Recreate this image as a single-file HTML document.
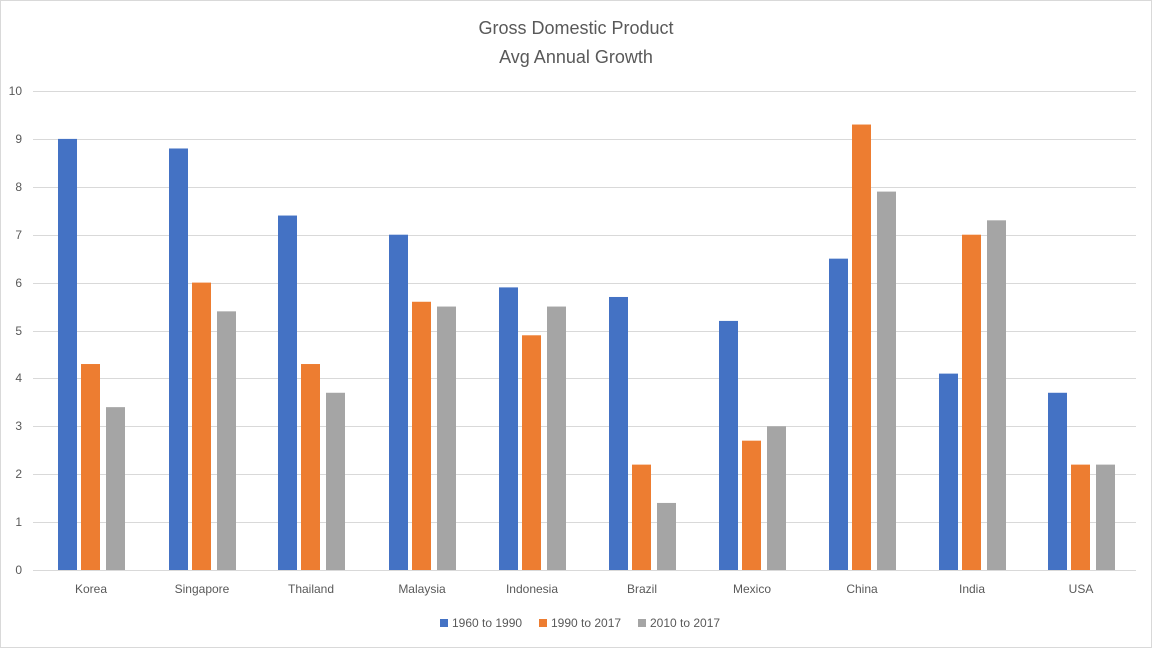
<!DOCTYPE html>
<html><head><meta charset="utf-8"><style>
html,body{margin:0;padding:0;background:#fff;}
svg{display:block;font-family:"Liberation Sans",sans-serif;}
</style></head><body>
<svg id="c" width="1152" height="648" viewBox="0 0 1152 648" xmlns="http://www.w3.org/2000/svg">
<rect x="0" y="0" width="1152" height="648" fill="#fff"/>
<rect x="0.5" y="0.5" width="1151" height="647" fill="none" stroke="#d9d9d9"/>
<text x="576" y="34" text-anchor="middle" font-size="18" fill="#595959">Gross Domestic Product</text>
<text x="576" y="63" text-anchor="middle" font-size="18" fill="#595959">Avg Annual Growth</text>
<g id="grid" stroke="#d9d9d9" stroke-width="1"></g>
<g font-size="12" fill="#595959" text-anchor="end">
<text x="22" y="574">0</text><text x="22" y="526">1</text><text x="22" y="478">2</text><text x="22" y="430">3</text><text x="22" y="382">4</text><text x="22" y="335">5</text><text x="22" y="287">6</text><text x="22" y="239">7</text><text x="22" y="191">8</text><text x="22" y="143">9</text><text x="22" y="95">10</text>
</g>
<g id="bars"></g>
<g font-size="12" fill="#595959" text-anchor="middle">
<text x="91" y="593">Korea</text><text x="202" y="593">Singapore</text><text x="311" y="593">Thailand</text><text x="422" y="593">Malaysia</text><text x="532" y="593">Indonesia</text><text x="642" y="593">Brazil</text><text x="752" y="593">Mexico</text><text x="862" y="593">China</text><text x="972" y="593">India</text><text x="1081" y="593">USA</text>
</g>
<g font-size="12" fill="#595959">
<rect x="440" y="619" width="8" height="8" fill="#4472C4"/><text x="452" y="627">1960 to 1990</text>
<rect x="539" y="619" width="8" height="8" fill="#ED7D31"/><text x="551" y="627">1990 to 2017</text>
<rect x="638" y="619" width="8" height="8" fill="#A5A5A5"/><text x="650" y="627">2010 to 2017</text>
</g>
</svg>
<script>
var ns="http://www.w3.org/2000/svg";
var g=document.getElementById("grid");
for(var i=0;i<=10;i++){var y=Math.round(570-i*47.9)+0.5;var l=document.createElementNS(ns,"line");l.setAttribute("x1",33);l.setAttribute("x2",1136);l.setAttribute("y1",y);l.setAttribute("y2",y);g.appendChild(l);}
var centers=[91,202,311,422,532,642,752,862,972,1081];
var data=[[9.0,4.3,3.4],[8.8,6.0,5.4],[7.4,4.3,3.7],[7.0,5.6,5.5],[5.9,4.9,5.5],[5.7,2.2,1.4],[5.2,2.7,3.0],[6.5,9.3,7.9],[4.1,7.0,7.3],[3.7,2.2,2.2]];
var cols=["#4472C4","#ED7D31","#A5A5A5"],off=[-33,-10,15];
var b=document.getElementById("bars");
data.forEach(function(d,i){d.forEach(function(v,j){var h=v*47.9;var r=document.createElementNS(ns,"rect");r.setAttribute("x",centers[i]+off[j]);r.setAttribute("y",570-h);r.setAttribute("width",19);r.setAttribute("height",h);r.setAttribute("fill",cols[j]);b.appendChild(r);});});
</script>
</body></html>
